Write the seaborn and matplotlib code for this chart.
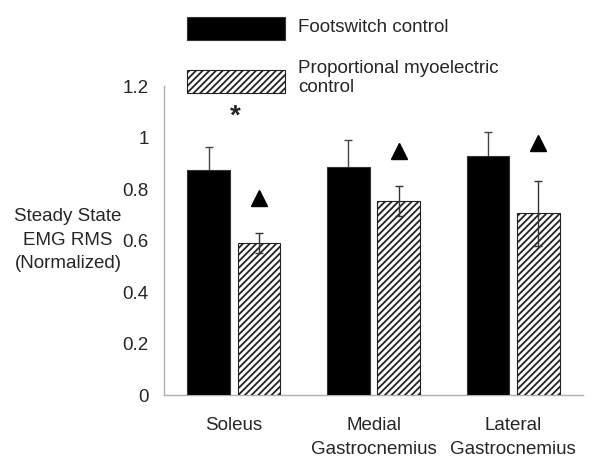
import matplotlib
matplotlib.use("Agg")
import matplotlib.pyplot as plt
import seaborn as sns
import pandas as pd
import numpy as np
from matplotlib.patches import Rectangle

categories = ["Soleus", "Medial\nGastrocnemius", "Lateral\nGastrocnemius"]
groups = ["Footswitch control", "Proportional myoelectric\ncontrol"]
footswitch = [0.872, 0.885, 0.930]
footswitch_err = [0.090, 0.105, 0.092]
myoelectric = [0.590, 0.752, 0.705]
myoelectric_err = [0.038, 0.058, 0.127]
triangle_y = [0.765, 0.947, 0.978]
star_y = 1.08
yticks = [0, 0.2, 0.4, 0.6, 0.8, 1, 1.2]
ytick_labels = ["0", "0.2", "0.4", "0.6", "0.8", "1", "1.2"]

sns.set_style("white")
plt.rcParams["font.family"] = ["Liberation Sans", "DejaVu Sans"]
plt.rcParams["hatch.linewidth"] = 1.3

FS = 13.5

df = pd.DataFrame({
    "muscle": categories * 2,
    "group": [groups[0]] * 3 + [groups[1]] * 3,
    "value": footswitch + myoelectric,
})

fig = plt.figure(figsize=(6, 4.73), dpi=100)
ax = fig.add_axes([164 / 600, 78 / 473, 419 / 600, 309 / 473])

sns.barplot(data=df, x="muscle", y="value", hue="group", order=categories,
            hue_order=groups, palette=["black", "white"], width=0.72, gap=0.15,
            errorbar=None, ax=ax, legend=False, edgecolor="#333333", linewidth=0.8)

n = len(categories)
solid = ax.patches[:n]
hatched = ax.patches[n:2 * n]
for p in solid:
    p.set_zorder(3)
for p in hatched:
    p.set_hatch("/////")
    p.set_edgecolor("#222222")
    p.set_zorder(3)

for p, v, e in zip(solid, footswitch, footswitch_err):
    xc = p.get_x() + p.get_width() / 2
    ax.errorbar(xc, v, yerr=e, fmt="none", ecolor="#444444", elinewidth=1.0,
                capsize=3, capthick=1.0, zorder=2)
for p, v, e in zip(hatched, myoelectric, myoelectric_err):
    xc = p.get_x() + p.get_width() / 2
    ax.errorbar(xc, v, yerr=e, fmt="none", ecolor="#333333", elinewidth=1.0,
                capsize=3, capthick=1.0, zorder=5)

for p, ty in zip(hatched, triangle_y):
    xc = p.get_x() + p.get_width() / 2
    ax.plot(xc, ty, marker="^", color="black", markersize=12, zorder=6)

p0 = solid[0]
ax.text(p0.get_x() + p0.get_width() / 2 + 0.19, star_y, "*", ha="center", va="center",
        fontsize=20, fontweight="bold")

ax.set_xlim(-0.5, n - 0.5)
ax.set_ylim(0, 1.2)
ax.set_yticks(yticks)
ax.set_yticklabels(ytick_labels)
ax.set_xticks(range(n))
ax.set_xticklabels(categories)
ax.set_xticks(np.arange(-0.5, n, 1.0), minor=True)
ax.tick_params(axis="x", which="major", length=0, pad=16, labelsize=FS)
ax.tick_params(axis="x", which="minor", length=5, color="#b0b0b0", direction="out")
ax.tick_params(axis="y", length=5, color="#b0b0b0", direction="out", labelsize=FS, pad=6)
for lbl in ax.get_xticklabels():
    lbl.set_linespacing(1.5)
ax.set_xlabel("")
ax.set_ylabel("")
for s in ["top", "right"]:
    ax.spines[s].set_visible(False)
for s in ["left", "bottom"]:
    ax.spines[s].set_color("#b0b0b0")
    ax.spines[s].set_linewidth(1.0)

fig.text(68 / 600, 1 - 240 / 473, "Steady State\nEMG RMS\n(Normalized)", ha="center",
         va="center", fontsize=FS, linespacing=1.5)

# legend
fig.patches.append(Rectangle((187 / 600, 1 - 40 / 473), 98 / 600, 23 / 473,
                             transform=fig.transFigure, facecolor="black",
                             edgecolor="#333333", linewidth=0.8))
fig.patches.append(Rectangle((187 / 600, 1 - 93 / 473), 98 / 600, 23 / 473,
                             transform=fig.transFigure, facecolor="white",
                             edgecolor="#222222", linewidth=0.8, hatch="/////"))
fig.text(298 / 600, 1 - 28 / 473, groups[0], ha="left", va="center", fontsize=FS)
fig.text(298 / 600, 1 - 78 / 473, groups[1], ha="left", va="center", fontsize=FS,
         linespacing=1.15)

fig.savefig("out.png", dpi=100)
